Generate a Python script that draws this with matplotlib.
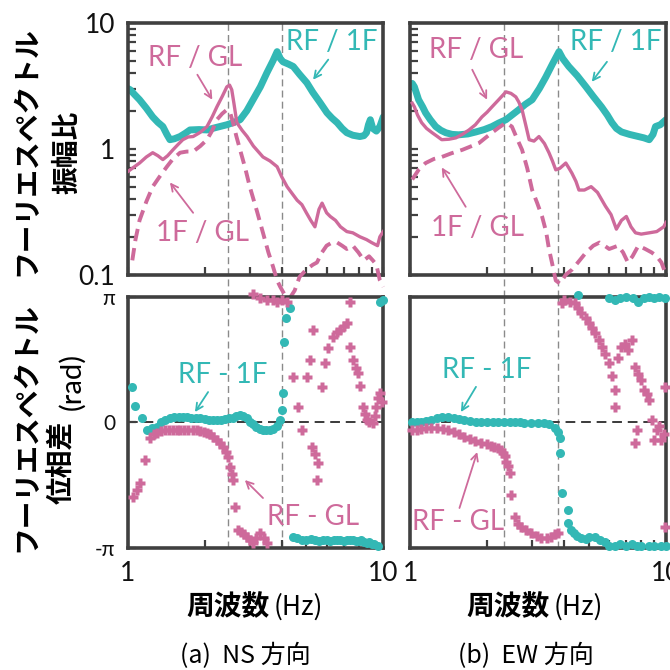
import numpy as np
import matplotlib.pyplot as plt
from matplotlib.ticker import NullFormatter, LogLocator

TEAL = '#33B8B5'
PINK = '#CE6A9B'
FRAME = '#404040'
NUM_FONT = ['Lato', 'DejaVu Sans']
JP_FONT = ['Noto Sans CJK JP', 'DejaVu Sans']

# ---- amplitude ratio, NS ----
f_ns_rf1f = [1.00, 1.02, 1.06, 1.11, 1.18, 1.25, 1.31, 1.37, 1.42, 1.46, 1.52, 1.60, 1.68, 1.75, 1.90,
             2.04, 2.20, 2.44, 2.60, 2.75, 2.92, 3.09, 3.30, 3.50, 3.70, 3.84, 3.95, 4.05, 4.25, 4.44,
             4.70, 5.02, 5.30, 5.66, 6.02, 6.30, 6.60, 6.90, 7.20, 7.60, 8.10, 8.40, 8.60, 8.75, 8.90,
             9.10, 9.40, 9.70, 10.0]
a_ns_rf1f = [3.0, 2.94, 2.7, 2.45, 2.1, 1.79, 1.62, 1.50, 1.30, 1.18, 1.20, 1.25, 1.33, 1.41, 1.42,
             1.41, 1.47, 1.55, 1.62, 1.70, 2.0, 2.45, 3.1, 4.0, 5.0, 5.9, 5.2, 4.9, 4.7, 4.5,
             3.9, 3.34, 2.8, 2.32, 1.93, 1.75, 1.61, 1.45, 1.34, 1.28, 1.25, 1.27, 1.34, 1.55, 1.70,
             1.45, 1.38, 1.50, 1.79]

f_ns_rfgl = [1.00, 1.02, 1.06, 1.11, 1.18, 1.25, 1.31, 1.37, 1.43, 1.50, 1.57, 1.64, 1.72, 1.80, 1.92,
             2.04, 2.14, 2.23, 2.34, 2.44, 2.50, 2.55, 2.60, 2.67, 2.80, 2.93, 3.10, 3.38, 3.60, 3.84,
             4.0, 4.2, 4.4, 4.6, 4.8, 5.0, 5.2, 5.4, 5.6, 5.76, 6.0, 6.2, 6.5, 6.8, 7.2,
             7.6, 8.1, 8.6, 9.0, 9.5, 9.7, 10.0]
a_ns_rfgl = [0.66, 0.68, 0.72, 0.77, 0.86, 0.93, 0.88, 0.82, 0.88, 0.98, 1.08, 1.18, 1.24, 1.25, 1.35,
             1.50, 1.80, 2.15, 2.60, 3.1, 3.2, 2.94, 2.3, 1.61, 1.40, 1.25, 1.05, 0.86, 0.80, 0.72,
             0.60, 0.50, 0.44, 0.39, 0.36, 0.31, 0.27, 0.24, 0.33, 0.37, 0.31, 0.29, 0.27, 0.24, 0.22,
             0.215, 0.20, 0.19, 0.18, 0.17, 0.20, 0.22]

f_ns_1fgl = [1.04, 1.07, 1.11, 1.18, 1.25, 1.33, 1.42, 1.50, 1.60, 1.70, 1.80, 1.92, 2.04, 2.14, 2.23,
             2.34, 2.44, 2.52, 2.58, 2.66, 2.75, 2.88, 3.0, 3.2, 3.38, 3.55, 3.7, 3.84, 3.95, 4.1,
             4.3, 4.5, 4.7, 5.0, 5.3, 5.5, 5.75, 6.0, 6.3, 6.6, 6.9, 7.2, 7.6, 8.0, 8.4,
             8.8, 9.1, 9.4, 9.7, 10.0]
a_ns_1fgl = [0.13, 0.19, 0.27, 0.38, 0.50, 0.60, 0.72, 0.83, 0.93, 0.95, 0.95, 1.05, 1.18, 1.40, 1.70,
             1.90, 2.04, 1.90, 1.61, 1.25, 0.98, 0.70, 0.50, 0.32, 0.215, 0.15, 0.116, 0.09, 0.08, 0.07,
             0.065, 0.075, 0.096, 0.11, 0.12, 0.125, 0.15, 0.17, 0.18, 0.18, 0.17, 0.16, 0.17, 0.15, 0.13,
             0.14, 0.13, 0.12, 0.09, 0.08]

# ---- amplitude ratio, EW ----
f_ew_rf1f = [1.02, 1.04, 1.08, 1.12, 1.15, 1.20, 1.26, 1.32, 1.38, 1.46, 1.55, 1.68, 1.81, 1.95, 2.09,
             2.22, 2.37, 2.50, 2.66, 2.82, 3.0, 3.2, 3.39, 3.6, 3.82, 3.95, 4.17, 4.5, 4.87, 5.2,
             5.6, 5.9, 6.15, 6.4, 6.7, 7.2, 7.8, 8.2, 8.6, 8.9, 9.1, 9.5, 9.8, 10.0]
a_ew_rf1f = [3.3, 3.1, 2.45, 2.15, 1.93, 1.70, 1.50, 1.40, 1.34, 1.30, 1.29, 1.31, 1.36, 1.42, 1.50,
             1.60, 1.70, 1.85, 2.04, 2.25, 2.45, 3.0, 3.7, 4.7, 5.9, 5.2, 4.5, 3.8, 3.1, 2.6,
             2.15, 1.85, 1.61, 1.45, 1.36, 1.30, 1.25, 1.22, 1.18, 1.30, 1.50, 1.55, 1.64, 1.70]

f_ew_rfgl = [1.02, 1.04, 1.07, 1.11, 1.16, 1.22, 1.28, 1.33, 1.42, 1.51, 1.60, 1.70, 1.80, 1.91, 2.0,
             2.09, 2.22, 2.37, 2.48, 2.59, 2.66, 2.74, 2.83, 2.92, 3.05, 3.19, 3.35, 3.49, 3.60, 3.71,
             3.85, 4.06, 4.18, 4.29, 4.45, 4.57, 4.8, 5.1, 5.4, 5.8, 6.1, 6.4, 6.7, 7.0, 7.3,
             7.6, 8.0, 8.6, 9.2, 9.8, 10.0]
a_ew_rfgl = [2.3, 2.15, 1.85, 1.61, 1.45, 1.34, 1.25, 1.18, 1.19, 1.22, 1.30, 1.41, 1.55, 1.79, 1.95,
             2.15, 2.45, 2.83, 2.75, 2.58, 2.35, 2.04, 1.55, 1.18, 1.15, 1.25, 1.10, 0.93, 0.80, 0.68,
             0.70, 0.77, 0.70, 0.64, 0.55, 0.47, 0.47, 0.50, 0.45, 0.35, 0.30, 0.23, 0.27, 0.29, 0.24,
             0.215, 0.21, 0.215, 0.22, 0.24, 0.26]

f_ew_1fgl = [1.02, 1.08, 1.15, 1.24, 1.33, 1.45, 1.60, 1.72, 1.86, 1.97, 2.09, 2.22, 2.37, 2.50, 2.62,
             2.74, 2.87, 3.0, 3.14, 3.28, 3.4, 3.49, 3.6, 3.71, 3.85, 4.06, 4.3, 4.6, 4.87, 5.2,
             5.5, 5.75, 6.0, 6.25, 6.5, 6.8, 7.1, 7.4, 7.8, 8.3, 8.8, 9.2, 9.6, 10.0]
a_ew_1fgl = [0.57, 0.68, 0.77, 0.83, 0.86, 0.92, 0.98, 1.04, 1.11, 1.22, 1.34, 1.47, 1.61, 1.50, 1.20,
             0.98, 0.70, 0.47, 0.37, 0.29, 0.22, 0.16, 0.12, 0.09, 0.085, 0.10, 0.11, 0.13, 0.15, 0.17,
             0.18, 0.17, 0.16, 0.165, 0.17, 0.15, 0.125, 0.14, 0.17, 0.16, 0.15, 0.14, 0.125, 0.10]

# ---- phase difference, NS ----
f_ns_p1f = [1.04, 1.07, 1.13, 1.19, 1.24, 1.30, 1.35, 1.40, 1.46, 1.52, 1.58, 1.64, 1.70, 1.77, 1.84,
            1.92, 2.0, 2.08, 2.16, 2.23, 2.31, 2.40, 2.48, 2.58, 2.66, 2.75, 2.83, 2.92, 3.0, 3.09,
            3.18, 3.28, 3.38, 3.48, 3.59, 3.70, 3.82, 3.94, 4.02, 4.05, 4.08, 4.15, 4.31, 4.44, 4.6,
            4.8, 5.0, 5.2, 5.4, 5.6, 5.8, 6.0, 6.2, 6.4, 6.6, 6.8, 7.0, 7.2, 7.4, 7.6,
            7.8, 8.0, 8.2, 8.4, 8.6, 8.8, 9.0, 9.2, 9.5, 9.7, 10.0]
p_ns_p1f = [0.89, 0.41, 0.11, -0.19, -0.14, -0.11, 0.0, 0.06, 0.11, 0.13, 0.14, 0.14, 0.13, 0.12, 0.11,
            0.10, 0.08, 0.07, 0.06, 0.06, 0.07, 0.08, 0.10, 0.11, 0.15, 0.19, 0.17, 0.10, 0.02, -0.05,
            -0.12, -0.17, -0.19, -0.19, -0.19, -0.17, -0.10, 0.06, 0.31, 0.74, 2.0, 2.62, 2.87, -2.87, -2.90,
            -2.94, -2.94, -2.92, -2.95, -2.96, -2.94, -2.94, -2.97, -2.94, -2.95, -2.93, -2.96, -2.95, -2.94, -2.94,
            -2.96, -2.97, -2.95, -2.98, -3.02, -3.0, -3.03, -3.05, -3.1, 3.02, 3.05]

f_ns_pgl = [1.05, 1.08, 1.11, 1.17, 1.22, 1.26, 1.30, 1.35, 1.40, 1.45, 1.50, 1.55, 1.60, 1.66, 1.72,
            1.80, 1.86, 1.92, 1.98, 2.04, 2.10, 2.16, 2.23, 2.30, 2.36, 2.42, 2.47, 2.51, 2.55, 2.58,
            2.63, 2.70, 2.78, 2.86, 2.93, 3.0, 3.09, 3.18, 3.29, 3.40, 3.50,
            3.09, 3.3, 3.5, 3.7, 3.84, 4.0, 4.2, 4.44, 4.63, 4.8, 5.02, 5.17, 5.3, 5.25,
            5.4, 5.57, 5.5, 5.76, 5.93, 6.1, 6.37, 6.6, 6.8, 7.0, 7.2, 7.4, 7.4, 7.6, 7.8,
            7.98, 8.1, 8.3, 8.45, 8.6, 8.8, 9.1, 9.3, 9.4, 9.55, 9.7, 9.85]
p_ns_pgl = [-1.87, -1.70, -1.52, -0.94, -0.39, -0.30, -0.26, -0.22, -0.20, -0.19, -0.19, -0.18, -0.18, -0.19, -0.19,
            -0.19, -0.20, -0.21, -0.23, -0.26, -0.30, -0.36, -0.44, -0.52, -0.61, -0.73, -0.86, -1.11, -1.30, -1.44,
            -2.12, -2.69, -2.75, -2.80, -2.87, -2.93, -3.02, -2.90, -2.77, -2.90, -3.02,
            3.2, 3.1, 3.07, 3.05, 3.0, 3.05, 3.02, 1.14, 0.39, -0.19, 1.14, 1.56, 2.31, -0.61,
            -0.80, -1.01, -1.44, 0.89, 1.49, 1.85, 2.14, 2.25, 2.31, 2.40, 2.49, 3.0, 1.89, 1.56, 1.35,
            1.24, 0.90, 0.39, 0.20, 0.06, 0.00, -0.01, 0.15, 0.39, 0.60, 0.74, 0.5]

# ---- phase difference, EW ----
f_ew_p1f = [1.02, 1.06, 1.10, 1.15, 1.21, 1.27, 1.33, 1.41, 1.48, 1.55, 1.63, 1.72, 1.81, 1.90, 2.0,
            2.1, 2.21, 2.33, 2.45, 2.56, 2.68, 2.80, 2.98, 3.15, 3.35, 3.50, 3.67, 3.78, 3.84, 3.87,
            3.91, 4.16, 4.16, 4.25, 4.36, 4.5, 4.67, 4.85, 5.0, 5.27, 5.5, 5.8, 6.0, 6.3, 6.6,
            7.0, 7.36, 7.7, 8.0, 8.6, 9.0, 9.6, 10.0,
            4.55, 6.0, 6.3, 6.6, 7.0, 7.4, 7.8, 8.2, 8.6, 9.0, 9.4, 9.9]
p_ew_p1f = [0.0, 0.0, 0.02, 0.04, 0.06, 0.10, 0.13, 0.14, 0.12, 0.08, 0.06, 0.04, 0.02, 0.0, 0.0,
            0.0, 0.0, 0.0, 0.0, 0.0, 0.0, -0.01, -0.02, -0.02, -0.02, -0.05, -0.14, -0.25, -0.39, -0.76,
            -1.77, -2.19, -2.52, -2.70, -2.77, -2.85, -2.89, -2.92, -2.87, -2.87, -2.95, -3.0, -3.1, -3.1, -3.05,
            -3.08, -3.05, -3.1, -3.1, -3.1, -3.08, -3.1, -3.1,
            3.19, 3.12, 3.05, 3.12, 3.14, 3.1, 3.0, 3.12, 3.14, 3.12, 3.14, 3.12]

f_ew_pgl = [1.02, 1.06, 1.10, 1.15, 1.21, 1.27, 1.34, 1.41, 1.48, 1.56, 1.63, 1.71, 1.80, 1.90, 2.0,
            2.07, 2.13, 2.2, 2.26, 2.31, 2.35, 2.38, 2.42, 2.45, 2.49, 2.56, 2.64, 2.72, 2.85, 2.98,
            3.12, 3.26, 3.42, 3.57, 3.70, 3.80,
            3.91, 4.0, 4.2, 4.4, 4.55, 4.67, 4.85, 5.0, 5.15, 5.27, 5.45, 5.6, 5.8, 5.97,
            6.15, 6.3, 6.3, 6.5, 6.7, 6.9, 7.1, 7.36, 7.55, 7.55, 7.7, 7.8, 8.0, 8.2, 8.4,
            8.6, 8.8, 9.0, 9.2, 9.4, 9.6, 9.8, 9.9, 9.9]
p_ew_pgl = [-0.19, -0.18, -0.16, -0.15, -0.14, -0.15, -0.17, -0.19, -0.25, -0.30, -0.36, -0.42, -0.47, -0.51, -0.55,
            -0.58, -0.61, -0.65, -0.70, -0.76, -0.85, -0.99, -1.10, -1.26, -1.81, -2.37, -2.55, -2.62, -2.70, -2.77,
            -2.83, -2.89, -2.90, -2.87, -2.80, -2.77,
            2.99, 3.05, 3.0, 2.99, 2.85, 2.74, 2.6, 2.49, 2.35, 2.24, 2.05, 1.89, 1.70, 1.49,
            1.15, 0.81, 0.39, 1.6, 1.89, 1.95, 1.81, 2.06, 1.39, -0.51, -0.19, 1.2, 1.06, 0.80, 0.70,
            0.56, 0.06, -0.44, -0.20, -0.10, -0.44, -0.30, 0.89, -2.62]

peaks_ns = [2.47, 4.02]
peaks_ew = [2.33, 3.79]

fig = plt.figure(figsize=(6.7, 6.7), dpi=100)
ax_tl = fig.add_axes([0.191, 0.590, 0.381, 0.376])
ax_tr = fig.add_axes([0.612, 0.590, 0.382, 0.376])
ax_bl = fig.add_axes([0.191, 0.182, 0.381, 0.375])
ax_br = fig.add_axes([0.612, 0.182, 0.382, 0.375])


def style(ax, left_labels, bottom_labels):
    ax.set_xscale('log')
    ax.set_xlim(1, 10)
    ax.set_xticks([1, 10])
    ax.set_xticklabels(['1', '10'])
    ax.xaxis.set_minor_locator(LogLocator(base=10, subs=np.arange(2, 10)))
    ax.xaxis.set_minor_formatter(NullFormatter())
    for s in ax.spines.values():
        s.set_linewidth(2.6)
        s.set_color(FRAME)
    ax.tick_params(which='both', direction='in', length=6, width=1.6, color=FRAME,
                   top=False, right=False, labelleft=left_labels, labelbottom=bottom_labels,
                   labelsize=19, labelcolor='#111111', pad=9)
    for lab in ax.get_xticklabels() + ax.get_yticklabels():
        lab.set_family(NUM_FONT)


def amp_panel(ax, peaks, f1, a1, f2, a2, f3, a3, left):
    ax.set_yscale('log')
    ax.set_ylim(0.1, 10)
    ax.set_yticks([0.1, 1, 10])
    ax.set_yticklabels(['0.1', '1', '10'])
    ax.yaxis.set_minor_locator(LogLocator(base=10, subs=np.arange(2, 10)))
    ax.yaxis.set_minor_formatter(NullFormatter())
    for p in peaks:
        ax.axvline(p, ymin=-0.09, ymax=1, clip_on=False, color='#8a8a8a', lw=1.0,
                   ls=(0, (5, 3)), zorder=1)
    ax.plot(f1, a1, color=TEAL, lw=5, solid_joinstyle='round', solid_capstyle='round', zorder=2)
    ax.plot(f3, a3, color=PINK, lw=2.8, dashes=(3.2, 1.8), clip_on=False, zorder=3)
    ax.plot(f2, a2, color=PINK, lw=2.4, solid_joinstyle='round', zorder=4)
    style(ax, left, False)


def phase_panel(ax, peaks, f1, p1, f2, p2, left):
    ax.set_ylim(-np.pi, np.pi)
    ax.set_yticks([-np.pi, 0, np.pi])
    ax.set_yticklabels(['-π', '0', 'π'])
    for p in peaks:
        ax.axvline(p, color='#8a8a8a', lw=1.0, ls=(0, (5, 3)), zorder=1)
    ax.axhline(0, color='#3a3a3a', lw=1.4, ls=(0, (5, 3)), zorder=1)
    ax.plot(f1, p1, 'o', ms=6.5, color=TEAL, mec='none', clip_on=False, zorder=3)
    ax.plot(f2, p2, 'P', ms=7, color=PINK, mec='none', clip_on=False, zorder=4)
    style(ax, left, True)
    if left:
        for lab in ax.get_yticklabels():
            lab.set_fontsize(15)


amp_panel(ax_tl, peaks_ns, f_ns_rf1f, a_ns_rf1f, f_ns_rfgl, a_ns_rfgl, f_ns_1fgl, a_ns_1fgl, True)
amp_panel(ax_tr, peaks_ew, f_ew_rf1f, a_ew_rf1f, f_ew_rfgl, a_ew_rfgl, f_ew_1fgl, a_ew_1fgl, False)
phase_panel(ax_bl, peaks_ns, f_ns_p1f, p_ns_p1f, f_ns_pgl, p_ns_pgl, True)
phase_panel(ax_br, peaks_ew, f_ew_p1f, p_ew_p1f, f_ew_pgl, p_ew_pgl, False)


def label(ax, text, color, txy, start, end):
    ax.text(txy[0], txy[1], text, color=color, fontsize=20, family=NUM_FONT,
            ha='center', va='center', zorder=6)
    ax.annotate('', xy=end, xytext=start, zorder=6,
                arrowprops=dict(arrowstyle='->,head_length=0.5,head_width=0.25',
                                color=color, lw=1.3, shrinkA=0, shrinkB=0))


label(ax_tl, 'RF / GL', PINK, (1.83, 5.3), (1.87, 3.87), (2.14, 2.45))
label(ax_tl, 'RF / 1F', TEAL, (6.31, 7.06), (6.09, 5.1), (5.31, 3.53))
label(ax_tl, '1F / GL', PINK, (1.95, 0.215), (1.80, 0.31), (1.46, 0.54))
label(ax_tr, 'RF / GL', PINK, (1.81, 6.1), (1.75, 4.24), (2.0, 2.45))
label(ax_tr, 'RF / 1F', TEAL, (6.38, 7.06), (5.88, 4.9), (5.13, 3.4))
label(ax_tr, '1F / GL', PINK, (1.83, 0.236), (1.65, 0.346), (1.33, 0.71))
label(ax_bl, 'RF - 1F', TEAL, (2.34, 1.19), (2.06, 0.76), (1.83, 0.26))
label(ax_bl, 'RF - GL', PINK, (5.3, -2.37), (3.38, -1.89), (2.87, -1.44))
label(ax_br, 'RF - 1F', TEAL, (1.99, 1.31), (1.81, 0.89), (1.58, 0.26))
label(ax_br, 'RF - GL', PINK, (1.54, -2.49), (1.56, -2.14), (1.83, -0.74))

# axis titles
fig.text(0.040, 0.775, 'フーリエスペクトル', rotation=90, ha='center', va='center',
         fontsize=20, fontweight='bold', family=JP_FONT)
fig.text(0.101, 0.772, '振幅比', rotation=90, ha='center', va='center',
         fontsize=20, fontweight='bold', family=JP_FONT)
fig.text(0.040, 0.363, 'フーリエスペクトル', rotation=90, ha='center', va='center',
         fontsize=20, fontweight='bold', family=JP_FONT)
fig.text(0.092, 0.310, '位相差', rotation=90, ha='center', va='center',
         fontsize=20, fontweight='bold', family=JP_FONT)
fig.text(0.107, 0.430, '(rad)', rotation=90, ha='center', va='center',
         fontsize=21, family=NUM_FONT)

for xc in (0.406, 0.825):
    fig.text(xc - 0.004, 0.094, '周波数', ha='right', va='center', fontsize=20,
             fontweight='bold', family=JP_FONT)
    fig.text(xc + 0.002, 0.094, '(Hz)', ha='left', va='center', fontsize=19,
             family=JP_FONT)
fig.text(0.366, 0.021, '(a)  NS 方向', ha='center', va='center', fontsize=18, family=JP_FONT)
fig.text(0.785, 0.021, '(b)  EW 方向', ha='center', va='center', fontsize=18, family=JP_FONT)

fig.savefig('out.png', dpi=100, facecolor='white')
